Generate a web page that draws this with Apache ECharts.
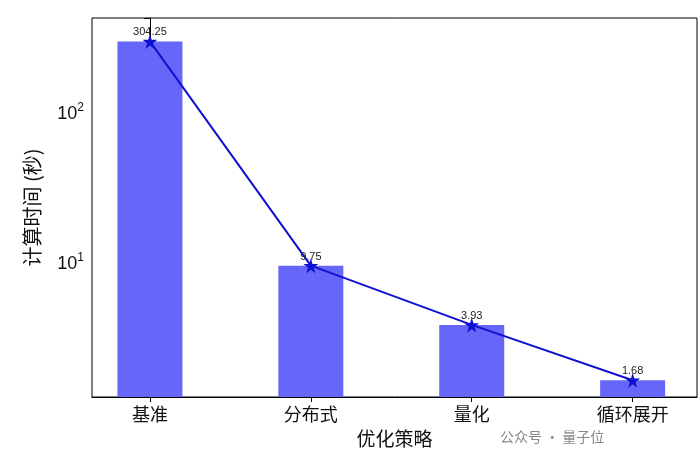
<!DOCTYPE html><html><head><meta charset="utf-8"><script src="https://cdn.jsdelivr.net/npm/echarts@6/dist/echarts.min.js"></script></head><body style="margin:0"><div id="c" style="width:700px;height:472px"></div><script>
const categories=['基准','分布式','量化','循环展开'];
const times=[304.25,9.75,3.93,1.68];
const pts=times.map((v,i)=>[i,v]);
const c=echarts.init(document.getElementById('c'));
c.setOption({animation:false,backgroundColor:'#fff',
grid:{left:92,right:3,top:18,bottom:75},
xAxis:{type:'value',min:-0.36,max:3.4,splitLine:{show:false},name:'优化策略',nameLocation:'middle',nameGap:32,nameTextStyle:{fontSize:19,color:'#111',fontFamily:'Noto Sans CJK SC'},
axisLine:{lineStyle:{color:'#000'}},axisTick:{customValues:[0,1,2,3],lineStyle:{color:'#000'}},axisLabel:{customValues:[0,1,2,3],formatter:v=>categories[Math.round(v)]||'',fontSize:18,color:'#111',fontFamily:'Noto Sans CJK SC'}},
yAxis:{type:'log',logBase:10,min:1.3,max:436,name:'计算时间 (秒)',nameLocation:'middle',nameGap:50,nameTextStyle:{fontSize:20,color:'#111',fontFamily:'Noto Sans CJK SC'},
splitLine:{show:false},axisLine:{show:true,lineStyle:{color:'#000'}},axisTick:{show:true,lineStyle:{color:'#000'},length:6},
axisLabel:{fontSize:18,color:'#111',formatter:v=>{const e=Math.round(Math.log10(v));return Math.abs(Math.log10(v)-e)<1e-6?'10{s|'+e+'}':'';},rich:{s:{fontSize:12,verticalAlign:'top',padding:[0,0,12,0]}}}},
series:[{type:'bar',data:pts,barWidth:65,itemStyle:{color:'#6666f8'}},
{type:'line',data:pts,symbol:'path://M50,0 L61,35 L98,35 L68,57 L79,91 L50,70 L21,91 L32,57 L2,35 L39,35 Z',symbolSize:15,lineStyle:{color:'#1010d0',width:2},itemStyle:{color:'#1010d0'},
label:{show:true,position:'top',distance:-4,fontSize:11,color:'#222',formatter:p=>p.value[1].toFixed(2)}}],
graphic:[{type:'rect',shape:{x:92,y:18,width:605,height:379},style:{fill:'none',stroke:'#000',lineWidth:1}},
{type:'text',left:500,top:430,style:{text:'公众号 · 量子位',fontSize:14,fill:'#888',fontFamily:'Noto Sans CJK SC'}}]});
</script></body></html>
